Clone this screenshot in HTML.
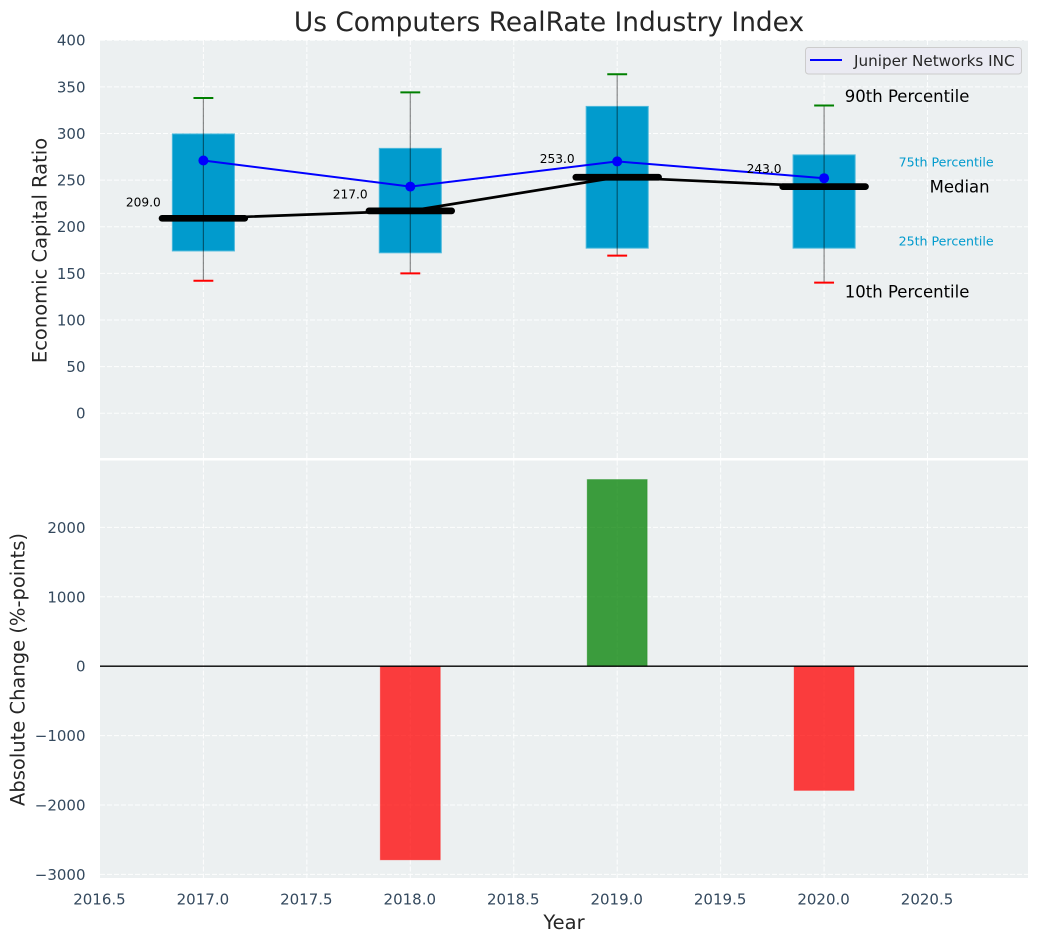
<!DOCTYPE html>
<html lang="en">
<head>
<meta charset="utf-8">
<title>Us Computers RealRate Industry Index</title>
<style>
html,body{margin:0;padding:0;background:#fff;}
svg{display:block;font-family:"DejaVu Sans","Liberation Sans",sans-serif;}
</style>
</head>
<body>
<svg id="chart" xmlns="http://www.w3.org/2000/svg" width="1039" height="942" viewBox="0 0 1039 942"></svg>
<script>
const years = [2017, 2018, 2019, 2020];
const p90 = [338, 344, 363.5, 330];
const q3 = [299.5, 284, 329, 277];
const medians = [209, 217, 253, 243];
const q1 = [174, 172, 177, 177];
const p10 = [142, 150, 169, 140];
const companyValues = [271, 243, 270, 252];
const changeYears = [2018, 2019, 2020];
const changeValues = [-2790, 2690, -1790];
const xTicks = [2016.5, 2017, 2017.5, 2018, 2018.5, 2019, 2019.5, 2020, 2020.5];
const xTickLabels = ['2016.5', '2017.0', '2017.5', '2018.0', '2018.5', '2019.0', '2019.5', '2020.0', '2020.5'];
const topTicks = [0, 50, 100, 150, 200, 250, 300, 350, 400];
const topTickLabels = ['0', '50', '100', '150', '200', '250', '300', '350', '400'];
const bottomTicks = [-3000, -2000, -1000, 0, 1000, 2000];
const bottomTickLabels = ['\u22123000', '\u22122000', '\u22121000', '0', '1000', '2000'];
const medianLabels = ['209.0', '217.0', '253.0', '243.0'];

const svg = document.getElementById('chart');
const NS = 'http://www.w3.org/2000/svg';
const PLOT_L = 100, PLOT_R = 1028;
const TOP_T = 40, TOP_B = 458;
const BOT_T = 460.5, BOT_B = 878;

function x(v) { return 203.4 + (v - 2017) * 206.9; }
function yTop(v) { return 413.2 - v * 0.9325; }
function yBot(v) { return 666.2 - v * 0.0694; }

function make(tag, attrs, parent) {
  const el = document.createElementNS(NS, tag);
  for (const k in attrs) el.setAttribute(k, attrs[k]);
  (parent || svg).appendChild(el);
  return el;
}
function label(str, px, py, size, fill, anchor, parent) {
  const t = make('text', { x: px, y: py, 'font-size': size, fill: fill, 'text-anchor': anchor || 'start' }, parent);
  t.textContent = str;
  return t;
}

// Panels
const topBg = make('rect', { x: PLOT_L, y: TOP_T, width: PLOT_R - PLOT_L, height: TOP_B - TOP_T, fill: '#ecf0f1' });


const botBg = make('rect', { x: PLOT_L, y: BOT_T, width: PLOT_R - PLOT_L, height: BOT_B - BOT_T, fill: '#ecf0f1' });



// Grid
const gridStyle = { stroke: '#ffffff', 'stroke-width': 1, 'stroke-dasharray': '5 2', 'stroke-opacity': 0.9 };
const grid = make('g', gridStyle);


xTicks.forEach(function (t) {
  if (t === 2016.5) return;
  make('line', { x1: x(t), x2: x(t), y1: TOP_T, y2: TOP_B }, grid);
  make('line', { x1: x(t), x2: x(t), y1: BOT_T, y2: BOT_B }, grid);
});
topTicks.forEach(function (t) {
  make('line', { x1: PLOT_L, x2: PLOT_R, y1: yTop(t), y2: yTop(t) }, grid);
});
bottomTicks.forEach(function (t) {
  make('line', { x1: PLOT_L, x2: PLOT_R, y1: yBot(t), y2: yBot(t) }, grid);
});

// Boxes
years.forEach(function (yr, i) {
  const box = make('rect', {
    x: x(yr - 0.15), y: yTop(q3[i]), width: x(yr + 0.15) - x(yr - 0.15), height: yTop(q1[i]) - yTop(q3[i]),
    fill: '#019bcd', stroke: '#4db9dc', 'stroke-width': 1
  });
  
  
});

// Median connecting line
const medianLine = make('polyline', {
  points: years.map(function (yr, i) { return x(yr) + ',' + yTop(medians[i]); }).join(' '),
  fill: 'none', stroke: '#000000', 'stroke-width': 2.7
});



// Median bars
years.forEach(function (yr, i) {
  const m = make('line', {
    x1: x(yr - 0.2), x2: x(yr + 0.2), y1: yTop(medians[i]), y2: yTop(medians[i]),
    stroke: '#000000', 'stroke-width': 6.7, 'stroke-linecap': 'round'
  });
  
  
});

// Whiskers and caps
years.forEach(function (yr, i) {
  const w = make('line', {
    x1: x(yr), x2: x(yr), y1: yTop(p90[i]), y2: yTop(p10[i]),
    stroke: '#000000', 'stroke-width': 1.2, 'stroke-opacity': 0.45
  });
  
  
  const capHigh = make('line', {
    x1: x(yr - 0.048), x2: x(yr + 0.048), y1: yTop(p90[i]), y2: yTop(p90[i]),
    stroke: '#008000', 'stroke-width': 2
  });
  
  
  const capLow = make('line', {
    x1: x(yr - 0.048), x2: x(yr + 0.048), y1: yTop(p10[i]), y2: yTop(p10[i]),
    stroke: '#ff0000', 'stroke-width': 2
  });
  
  
});

// Company line
const companyLine = make('polyline', {
  points: years.map(function (yr, i) { return x(yr) + ',' + yTop(companyValues[i]); }).join(' '),
  fill: 'none', stroke: '#0000ff', 'stroke-width': 2
});


years.forEach(function (yr, i) {
  const d = make('circle', { cx: x(yr), cy: yTop(companyValues[i]), r: 5, fill: '#0000ff' });
  
  
});

// Median value labels
years.forEach(function (yr, i) {
  const t = label(medianLabels[i], x(yr) - 77.5, yTop(medians[i] * 1.06), 12.2, '#000000', 'start');
  
  
});

// Percentile annotations (anchored to the last year)
const last = years.length - 1;
const lastYear = years[last];
const a90 = label('90th Percentile', x(lastYear + 0.1), yTop(p90[last]) - 3.5, 16.5, '#000000');


const a10 = label('10th Percentile', x(lastYear + 0.1), yTop(p10[last]) + 15, 16.5, '#000000');


const a50 = label('Median', x(lastYear + 0.51), yTop(medians[last]) + 6, 16.5, '#000000');


const a75 = label('75th Percentile', x(lastYear + 0.36), yTop(q3[last]) + 11.5, 12.6, '#009acd');


const a25 = label('25th Percentile', x(lastYear + 0.36), yTop(q1[last]) - 2.5, 12.6, '#009acd');



// Legend
const legend = make('g', {});


make('rect', { x: 805.5, y: 47.5, width: 216, height: 26.5, rx: 3, ry: 3, fill: '#eaeaf2', stroke: '#cccccc', 'stroke-width': 1 }, legend);
make('line', { x1: 810, x2: 842, y1: 60, y2: 60, stroke: '#0000ff', 'stroke-width': 2 }, legend);
const legendText = label('Juniper Networks INC', 854, 66, 15.2, '#262626', 'start', legend);



// Change bars
changeYears.forEach(function (yr, i) {
  const v = changeValues[i];
  const b = make('rect', {
    x: x(yr - 0.145), y: Math.min(yBot(v), yBot(0)), width: x(yr + 0.145) - x(yr - 0.145),
    height: Math.abs(yBot(v) - yBot(0)),
    fill: v >= 0 ? '#008000' : '#ff0000', 'fill-opacity': 0.75,
    stroke: v >= 0 ? '#008000' : '#ff0000', 'stroke-opacity': 0.3, 'stroke-width': 1
  });
  
  
});
const zero = make('line', { x1: PLOT_L, x2: PLOT_R, y1: yBot(0), y2: yBot(0), stroke: '#000000', 'stroke-width': 1.3 });



// Tick labels
const tickColor = '#34495e';
xTicks.forEach(function (t, i) {
  const el = label(xTickLabels[i], x(t) - 0.5, 904.5, 15, tickColor, 'middle');
  
  
});
topTicks.forEach(function (t, i) {
  const el = label(topTickLabels[i], 85.5, yTop(t) + 5.5, 15, tickColor, 'end');
  
  
});
bottomTicks.forEach(function (t, i) {
  const el = label(bottomTickLabels[i], 85.5, yBot(t) + 5.5, 15, tickColor, 'end');
  
  
});

// Titles
const title = label('Us Computers RealRate Industry Index', 549, 31, 26.4, '#262626', 'middle');


const xTitle = label('Year', 564, 929, 19.5, '#262626', 'middle');


const yTitleTop = label('Economic Capital Ratio', 0, 0, 19.5, '#262626', 'middle');
yTitleTop.setAttribute('transform', 'translate(46.5 250.5) rotate(-90)');


const yTitleBot = label('Absolute Change (%-points)', 0, 0, 19.5, '#262626', 'middle');
yTitleBot.setAttribute('transform', 'translate(24.5 669.5) rotate(-90)');


</script>
</body>
</html>
